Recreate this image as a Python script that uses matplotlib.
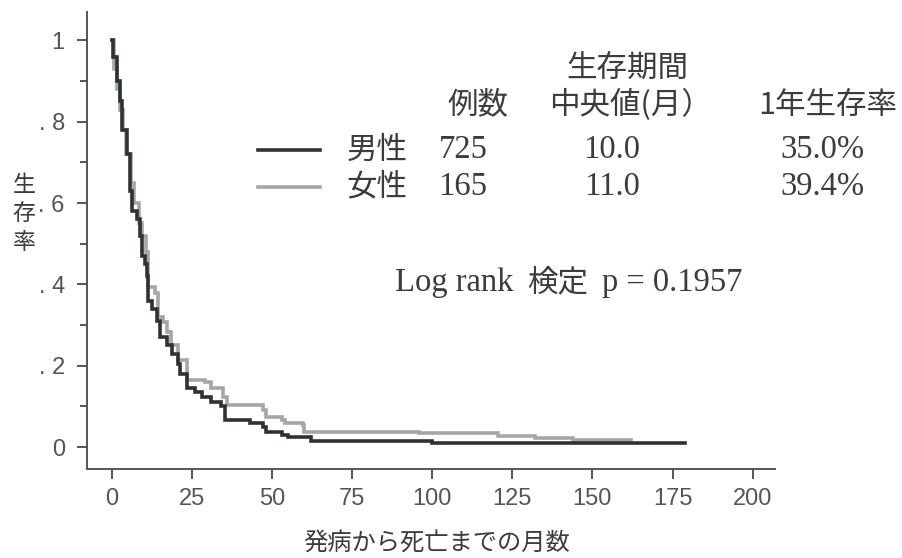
import matplotlib.pyplot as plt
from matplotlib.lines import Line2D

# Kaplan-Meier step estimates (months, survival proportion)
male_t = [0, 0.3, 1.6, 2.5, 3.1, 4.7, 5.6, 6.3, 7.8, 8.8, 9.4, 10.3, 10.9, 11.3, 12.5,
          14, 15, 17.2, 18.8, 20.6, 21.3, 23.4, 26, 28, 31, 34, 35.3, 43, 47, 48,
          53, 55, 62, 100, 179]
male_s = [1.0, 0.96, 0.90, 0.85, 0.78, 0.72, 0.63, 0.58, 0.56, 0.52, 0.47, 0.45, 0.42, 0.36, 0.34,
          0.31, 0.27, 0.25, 0.23, 0.205, 0.18, 0.145, 0.135, 0.123, 0.11, 0.10, 0.066, 0.059, 0.049, 0.038,
          0.03, 0.025, 0.016, 0.011, 0.011]

female_t = [0, 0.5, 1.5, 2.5, 3.3, 4.5, 5.8, 7, 8.5, 9.5, 10.5, 11.3, 13.4, 14.4, 16,
            17.2, 18.5, 20.6, 23.4, 29, 31, 34.7, 36, 47, 48, 53, 54, 59.5, 60, 96,
            120.6, 132, 144, 162]
female_s = [1.0, 0.93, 0.88, 0.83, 0.78, 0.72, 0.65, 0.60, 0.55, 0.52, 0.48, 0.394, 0.378, 0.32, 0.307,
            0.283, 0.25, 0.214, 0.165, 0.16, 0.145, 0.123, 0.103, 0.091, 0.074, 0.066, 0.059, 0.054, 0.037, 0.034,
            0.027, 0.022, 0.017, 0.017]

groups = ["男性", "女性"]
n_cases = ["725", "165"]
median_months = ["10.0", "11.0"]
one_year_rate = ["35.0%", "39.4%"]
p_value = "0.1957"

x_ticks = [0, 25, 50, 75, 100, 125, 150, 175, 200]
y_ticks = [0, 0.2, 0.4, 0.6, 0.8, 1.0]
y_tick_labels = ["0", ". 2", ". 4", ". 6", ". 8", "1"]

W, H = 903, 558
JP = ["Noto Sans CJK JP", "DejaVu Sans"]
SERIF = ["Liberation Serif", "DejaVu Serif"]
TXT = "#3c3c3c"
AX = "#555555"
DARK = "#2e3331"
LIGHT = "#a6a6a6"
JP_SIZE = 22
SERIF_SIZE = 23.5


def fx(px):
    return px / W


def fy(py):
    return 1 - py / H


fig = plt.figure(figsize=(W / 100, H / 100), dpi=100)
ax = fig.add_axes([fx(87), fy(469), fx(775) - fx(87), fy(12) - fy(469)])

ax.step(female_t, female_s, where="post", color=LIGHT, lw=2.6, solid_joinstyle="miter")
ax.step(male_t, male_s, where="post", color=DARK, lw=2.6, solid_joinstyle="miter")

ax.set_xlim(-7.8, 207)
ax.set_ylim(-0.054, 1.07)
ax.spines["top"].set_visible(False)
ax.spines["right"].set_visible(False)
for s in ("left", "bottom"):
    ax.spines[s].set_color(AX)
    ax.spines[s].set_linewidth(1.4)

ax.set_xticks(x_ticks)
ax.set_xticklabels([str(v) for v in x_ticks], family=["Liberation Sans"], fontsize=17, color=AX)
ax.set_yticks(y_ticks)
ax.set_yticklabels(y_tick_labels, family=["Liberation Sans"], fontsize=17, color=AX)
ax.set_yticks([0.1, 0.3, 0.5, 0.7, 0.9], minor=True)
ax.tick_params(axis="both", which="major", length=7, width=1.4, color=AX)
ax.tick_params(axis="x", which="major", pad=7)
ax.tick_params(axis="y", which="major", pad=9)
ax.tick_params(axis="y", which="minor", length=5, width=1.4, color=AX)

# stacked vertical axis title
fig.text(fx(24), fy(214), "生\n存\n率", family=JP, fontsize=16.5, color=TXT,
         ha="center", va="center", linespacing=1.32)
fig.text(fx(437), fy(543), "発病から死亡までの月数", family=JP, fontsize=17.5, color=TXT,
         ha="center", va="center")

# summary table
fig.text(fx(627), fy(68), "生存期間", family=JP, fontsize=JP_SIZE, color=TXT, ha="center", va="center")
fig.text(fx(478), fy(105), "例数", family=JP, fontsize=JP_SIZE, color=TXT, ha="center", va="center")
fig.text(fx(630), fy(105), "中央値(月）", family=JP, fontsize=JP_SIZE, color=TXT, ha="center", va="center")
fig.text(fx(828), fy(105), "1年生存率", family=JP, fontsize=JP_SIZE, color=TXT, ha="center", va="center")

rows_y = [150, 187]
for i, color in enumerate([DARK, LIGHT]):
    py = rows_y[i]
    fig.add_artist(Line2D([fx(258), fx(320)], [fy(py), fy(py)], color=color, lw=2.6,
                          transform=fig.transFigure))
    fig.text(fx(377), fy(py), groups[i], family=JP, fontsize=JP_SIZE, color=TXT, ha="center", va="center")
    fig.text(fx(463), fy(py), n_cases[i], family=SERIF, fontsize=SERIF_SIZE, color=TXT,
             ha="center", va="center")
    fig.text(fx(612), fy(py), median_months[i], family=SERIF, fontsize=SERIF_SIZE, color=TXT,
             ha="center", va="center")
    fig.text(fx(822), fy(py), one_year_rate[i], family=SERIF, fontsize=SERIF_SIZE, color=TXT,
             ha="center", va="center")

fig.text(fx(395), fy(283), "Log rank", family=SERIF, fontsize=SERIF_SIZE, color=TXT, ha="left", va="center")
fig.text(fx(527), fy(283), "検定", family=JP, fontsize=JP_SIZE, color=TXT, ha="left", va="center")
fig.text(fx(602), fy(283), "p = " + p_value, family=SERIF, fontsize=SERIF_SIZE, color=TXT,
         ha="left", va="center")

fig.savefig("out.png", dpi=100)
